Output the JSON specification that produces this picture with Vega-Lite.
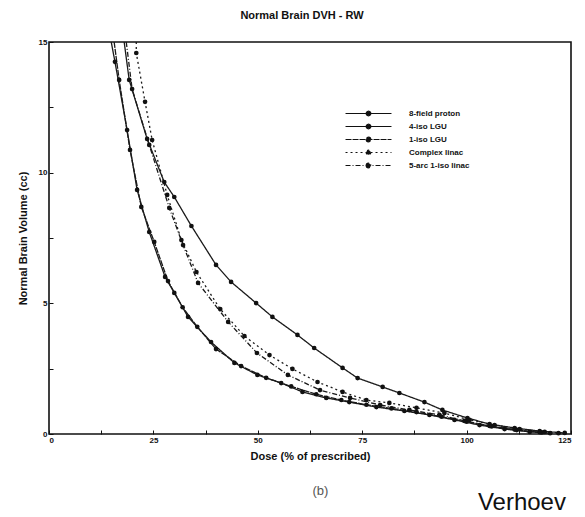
{
  "$schema": "https://vega.github.io/schema/vega-lite/v6.json",
  "width": 522,
  "height": 392,
  "autosize": "none",
  "padding": {"left": 49, "top": 42, "right": 14, "bottom": 83},
  "background": "white",
  "title": {"text": "Normal Brain DVH - RW", "font": "Liberation Sans", "fontSize": 11, "fontWeight": "bold", "color": "#111", "offset": 17, "anchor": "middle", "dx": -8},
  "config": {
    "view": {"stroke": "#111", "strokeWidth": 1.6},
    "axis": {"grid": false, "domain": false, "labelFont": "Liberation Sans", "labelFontWeight": "bold", "labelFontSize": 8, "labelColor": "#111", "titleFont": "Liberation Sans", "titleFontWeight": "bold", "titleFontSize": 11, "titleColor": "#111", "tickColor": "#111", "tickSize": -4, "tickWidth": 1}
  },
  "data": {"values": [
    {"s": "8-field proton", "x": 18.0, "y": 15.0},
    {"s": "8-field proton", "x": 19.2, "y": 13.55},
    {"s": "8-field proton", "x": 23.5, "y": 11.29},
    {"s": "8-field proton", "x": 27.6, "y": 9.64},
    {"s": "8-field proton", "x": 30.0, "y": 9.07},
    {"s": "8-field proton", "x": 34.1, "y": 7.96},
    {"s": "8-field proton", "x": 40.0, "y": 6.47},
    {"s": "8-field proton", "x": 43.6, "y": 5.82},
    {"s": "8-field proton", "x": 49.6, "y": 5.01},
    {"s": "8-field proton", "x": 53.5, "y": 4.48},
    {"s": "8-field proton", "x": 59.5, "y": 3.79},
    {"s": "8-field proton", "x": 63.5, "y": 3.29},
    {"s": "8-field proton", "x": 70.3, "y": 2.53},
    {"s": "8-field proton", "x": 73.9, "y": 2.14},
    {"s": "8-field proton", "x": 79.9, "y": 1.80},
    {"s": "8-field proton", "x": 83.9, "y": 1.57},
    {"s": "8-field proton", "x": 89.9, "y": 1.22},
    {"s": "8-field proton", "x": 94.2, "y": 0.92},
    {"s": "8-field proton", "x": 100.2, "y": 0.61},
    {"s": "8-field proton", "x": 105.5, "y": 0.38},
    {"s": "8-field proton", "x": 111.5, "y": 0.23},
    {"s": "8-field proton", "x": 117.5, "y": 0.11},
    {"s": "8-field proton", "x": 123.5, "y": 0.04},
    {"s": "4-iso LGU", "x": 14.9, "y": 15.0},
    {"s": "4-iso LGU", "x": 15.8, "y": 14.24},
    {"s": "4-iso LGU", "x": 18.7, "y": 11.63},
    {"s": "4-iso LGU", "x": 21.1, "y": 9.34},
    {"s": "4-iso LGU", "x": 24.0, "y": 7.73},
    {"s": "4-iso LGU", "x": 27.8, "y": 6.01},
    {"s": "4-iso LGU", "x": 30.0, "y": 5.40},
    {"s": "4-iso LGU", "x": 33.3, "y": 4.48},
    {"s": "4-iso LGU", "x": 38.8, "y": 3.52},
    {"s": "4-iso LGU", "x": 44.4, "y": 2.72},
    {"s": "4-iso LGU", "x": 49.9, "y": 2.26},
    {"s": "4-iso LGU", "x": 55.6, "y": 1.95},
    {"s": "4-iso LGU", "x": 60.7, "y": 1.61},
    {"s": "4-iso LGU", "x": 66.4, "y": 1.38},
    {"s": "4-iso LGU", "x": 71.9, "y": 1.22},
    {"s": "4-iso LGU", "x": 78.4, "y": 1.03},
    {"s": "4-iso LGU", "x": 85.1, "y": 0.88},
    {"s": "4-iso LGU", "x": 91.1, "y": 0.73},
    {"s": "4-iso LGU", "x": 97.1, "y": 0.54},
    {"s": "4-iso LGU", "x": 103.1, "y": 0.34},
    {"s": "4-iso LGU", "x": 109.1, "y": 0.19},
    {"s": "4-iso LGU", "x": 115.1, "y": 0.08},
    {"s": "4-iso LGU", "x": 120.0, "y": 0.03},
    {"s": "1-iso LGU", "x": 15.6, "y": 15.0},
    {"s": "1-iso LGU", "x": 16.8, "y": 13.55},
    {"s": "1-iso LGU", "x": 19.4, "y": 10.87},
    {"s": "1-iso LGU", "x": 22.1, "y": 8.69},
    {"s": "1-iso LGU", "x": 25.2, "y": 7.35},
    {"s": "1-iso LGU", "x": 28.5, "y": 5.85},
    {"s": "1-iso LGU", "x": 32.0, "y": 4.85},
    {"s": "1-iso LGU", "x": 35.5, "y": 4.10},
    {"s": "1-iso LGU", "x": 40.0, "y": 3.25},
    {"s": "1-iso LGU", "x": 46.0, "y": 2.60},
    {"s": "1-iso LGU", "x": 52.0, "y": 2.15},
    {"s": "1-iso LGU", "x": 58.0, "y": 1.82},
    {"s": "1-iso LGU", "x": 64.0, "y": 1.52},
    {"s": "1-iso LGU", "x": 70.0, "y": 1.30},
    {"s": "1-iso LGU", "x": 76.0, "y": 1.12},
    {"s": "1-iso LGU", "x": 82.0, "y": 0.98},
    {"s": "1-iso LGU", "x": 88.0, "y": 0.84},
    {"s": "1-iso LGU", "x": 94.0, "y": 0.66},
    {"s": "1-iso LGU", "x": 100.0, "y": 0.47},
    {"s": "1-iso LGU", "x": 106.0, "y": 0.29},
    {"s": "1-iso LGU", "x": 112.0, "y": 0.15},
    {"s": "1-iso LGU", "x": 118.0, "y": 0.06},
    {"s": "Complex linac", "x": 20.9, "y": 15.0},
    {"s": "Complex linac", "x": 20.9, "y": 14.58},
    {"s": "Complex linac", "x": 23.0, "y": 12.71},
    {"s": "Complex linac", "x": 24.7, "y": 11.25},
    {"s": "Complex linac", "x": 28.3, "y": 9.15},
    {"s": "Complex linac", "x": 31.7, "y": 7.42},
    {"s": "Complex linac", "x": 35.3, "y": 6.20},
    {"s": "Complex linac", "x": 41.0, "y": 4.78},
    {"s": "Complex linac", "x": 46.8, "y": 3.75},
    {"s": "Complex linac", "x": 52.8, "y": 3.02},
    {"s": "Complex linac", "x": 58.3, "y": 2.49},
    {"s": "Complex linac", "x": 64.3, "y": 1.99},
    {"s": "Complex linac", "x": 70.3, "y": 1.61},
    {"s": "Complex linac", "x": 76.0, "y": 1.30},
    {"s": "Complex linac", "x": 81.5, "y": 1.19},
    {"s": "Complex linac", "x": 88.0, "y": 1.00},
    {"s": "Complex linac", "x": 94.7, "y": 0.80},
    {"s": "Complex linac", "x": 100.7, "y": 0.54},
    {"s": "Complex linac", "x": 106.7, "y": 0.34},
    {"s": "Complex linac", "x": 112.7, "y": 0.19},
    {"s": "Complex linac", "x": 118.7, "y": 0.08},
    {"s": "Complex linac", "x": 122.0, "y": 0.03},
    {"s": "5-arc 1-iso linac", "x": 18.5, "y": 15.0},
    {"s": "5-arc 1-iso linac", "x": 19.9, "y": 13.2},
    {"s": "5-arc 1-iso linac", "x": 24.0, "y": 11.06},
    {"s": "5-arc 1-iso linac", "x": 28.8, "y": 8.65},
    {"s": "5-arc 1-iso linac", "x": 32.1, "y": 7.23},
    {"s": "5-arc 1-iso linac", "x": 35.7, "y": 5.78},
    {"s": "5-arc 1-iso linac", "x": 42.9, "y": 4.29},
    {"s": "5-arc 1-iso linac", "x": 49.8, "y": 3.10},
    {"s": "5-arc 1-iso linac", "x": 57.2, "y": 2.26},
    {"s": "5-arc 1-iso linac", "x": 64.9, "y": 1.68},
    {"s": "5-arc 1-iso linac", "x": 72.1, "y": 1.38},
    {"s": "5-arc 1-iso linac", "x": 79.3, "y": 1.11},
    {"s": "5-arc 1-iso linac", "x": 86.3, "y": 0.92},
    {"s": "5-arc 1-iso linac", "x": 93.5, "y": 0.73},
    {"s": "5-arc 1-iso linac", "x": 99.5, "y": 0.50},
    {"s": "5-arc 1-iso linac", "x": 105.5, "y": 0.31},
    {"s": "5-arc 1-iso linac", "x": 111.5, "y": 0.17},
    {"s": "5-arc 1-iso linac", "x": 117.5, "y": 0.07}
  ]},
  "layer": [
    {
      "mark": {"type": "line", "strokeWidth": 1.3, "clip": true, "color": "#1a1a1a"},
      "encoding": {
        "x": {"field": "x", "type": "quantitative", "scale": {"domain": [0, 125], "nice": false}, "title": "Dose (% of prescribed)",
          "axis": {"values": [0, 12.5, 25, 37.5, 50, 62.5, 75, 87.5, 100, 112.5, 125], "labelExpr": "datum.value % 25 == 0 ? datum.label : ''", "labelPadding": 6, "titlePadding": 6}},
        "y": {"field": "y", "type": "quantitative", "scale": {"domain": [0, 15], "nice": false}, "title": "Normal Brain Volume (cc)",
          "axis": {"values": [0, 2.5, 5, 7.5, 10, 12.5, 15], "labelExpr": "datum.value % 5 == 0 ? datum.label : ''", "labelPadding": 6, "titlePadding": 10}},
        "strokeDash": {"field": "s", "type": "nominal", "scale": {"domain": ["8-field proton", "4-iso LGU", "1-iso LGU", "Complex linac", "5-arc 1-iso linac"], "range": [[1, 0], [1, 0], [6, 1], [2, 3], [5, 2, 1, 2]]},
          "legend": {"title": null, "orient": "none", "legendX": 313, "legendY": 65, "symbolType": "M-4,0H4M-0.4,0A0.4,0.4 0 1 0 0.4,0A0.4,0.4 0 1 0 -0.4,0", "symbolSize": 132, "symbolStrokeColor": "#111", "symbolFillColor": "#111", "symbolStrokeWidth": 1.2, "labelFont": "Liberation Sans", "labelFontWeight": "bold", "labelFontSize": 8, "labelColor": "#111", "labelOffset": 34, "rowPadding": 1}},
        "order": {"field": "x"}
      }
    },
    {
      "transform": [{"filter": "datum.y < 14.9"}],
      "mark": {"type": "point", "filled": true, "shape": "circle", "size": 22, "color": "#111", "opacity": 1},
      "encoding": {
        "x": {"field": "x", "type": "quantitative"},
        "y": {"field": "y", "type": "quantitative"}
      }
    },
    {
      "data": {"values": [{"label": "(b)"}]},
      "mark": {"type": "text", "font": "Liberation Sans", "fontSize": 13, "color": "#555", "clip": false},
      "encoding": {"x": {"datum": 65}, "y": {"datum": -2.2}, "text": {"field": "label"}}
    },
    {
      "data": {"values": [{"label": "Verhoev"}]},
      "mark": {"type": "text", "font": "Liberation Sans", "fontSize": 24, "color": "#111", "align": "left", "baseline": "alphabetic", "clip": false},
      "encoding": {"x": {"datum": 102.7}, "y": {"datum": -2.9}, "text": {"field": "label"}}
    }
  ]
}
